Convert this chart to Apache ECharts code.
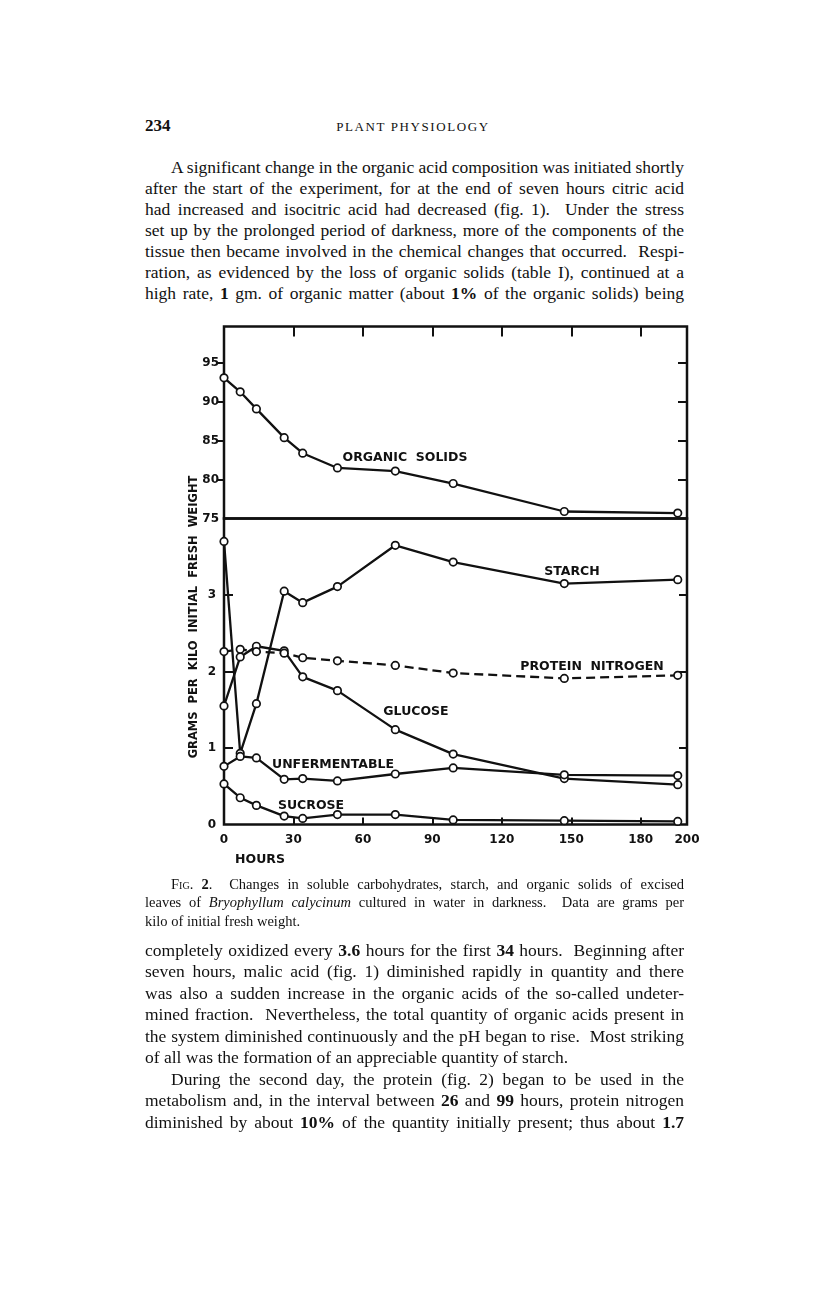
<!DOCTYPE html>
<html lang="en">
<head>
<meta charset="UTF-8">
<title>Plant Physiology 234</title>
<style>
  body { margin: 0; background: #fff; }
  #page { position: relative; width: 816px; height: 1295px; color: #111;
          font-family: "Liberation Serif", "DejaVu Serif", serif; }
  .ln { position: absolute; left: 145px; width: 539px; height: 20px; line-height: 20px;
        font-size: 17.5px; white-space: nowrap; }
  .cap { font-size: 14.5px; height: 18px; line-height: 18px; }
  .ind { left: 171px; width: 513px; }
  b { font-weight: 700; }
  #chart { position: absolute; left: 0; top: 300px; width: 816px; height: 580px; }
</style>
</head>
<body>
<div id="page">
  <div style="position:absolute;left:145px;top:116px;font-size:17px;line-height:20px;font-weight:bold;">234</div>
  <div style="position:absolute;left:300px;width:226px;top:117px;font-size:13px;line-height:20px;text-align:center;letter-spacing:1.6px;">PLANT PHYSIOLOGY</div>

  <div class="ln ind" style="top:157px">A significant change in the organic acid composition was initiated shortly</div>
  <div class="ln" style="top:178px">after the start of the experiment, for at the end of seven hours citric acid</div>
  <div class="ln" style="top:199px">had increased and isocitric acid had decreased (fig. 1).&nbsp; Under the stress</div>
  <div class="ln" style="top:220px">set up by the prolonged period of darkness, more of the components of the</div>
  <div class="ln" style="top:241px">tissue then became involved in the chemical changes that occurred.&nbsp; Respi-</div>
  <div class="ln" style="top:262px">ration, as evidenced by the loss of organic solids (table I), continued at a</div>
  <div class="ln" style="top:283px">high rate, <b>1</b> gm. of organic matter (about <b>1%</b> of the organic solids) being</div>

  <div id="chart"></div>

  <div class="ln cap ind" style="top:875px">F<span style="font-variant:small-caps">ig</span>. <b>2</b>.&nbsp; Changes in soluble carbohydrates, starch, and organic solids of excised</div>
  <div class="ln cap" style="top:893px">leaves of <i>Bryophyllum calycinum</i> cultured in water in darkness.&nbsp; Data are grams per</div>
  <div class="ln cap end" style="top:912px">kilo of initial fresh weight.</div>

  <div class="ln" style="top:940px">completely oxidized every <b>3.6</b> hours for the first <b>34</b> hours.&nbsp; Beginning after</div>
  <div class="ln" style="top:961px">seven hours, malic acid (fig. 1) diminished rapidly in quantity and there</div>
  <div class="ln" style="top:983px">was also a sudden increase in the organic acids of the so-called undeter-</div>
  <div class="ln" style="top:1004px">mined fraction.&nbsp; Nevertheless, the total quantity of organic acids present in</div>
  <div class="ln" style="top:1026px">the system diminished continuously and the pH began to rise.&nbsp; Most striking</div>
  <div class="ln end" style="top:1047px">of all was the formation of an appreciable quantity of starch.</div>
  <div class="ln ind" style="top:1069px">During the second day, the protein (fig. 2) began to be used in the</div>
  <div class="ln" style="top:1090px">metabolism and, in the interval between <b>26</b> and <b>99</b> hours, protein nitrogen</div>
  <div class="ln" style="top:1112px">diminished by about <b>10%</b> of the quantity initially present; thus about <b>1.7</b></div>
</div>

<script>
// stretch or squeeze each printed line to the column width, like the typeset page
(function () {
  var lines = document.querySelectorAll('.ln');
  for (var i = 0; i < lines.length; i++) {
    var el = lines[i];
    var span = document.createElement('span');
    while (el.firstChild) span.appendChild(el.firstChild);
    el.appendChild(span);
    var natural = span.getBoundingClientRect().width;
    var target = el.clientWidth;
    var gaps = (span.textContent.match(/[ \u00a0]/g) || []).length;
    if (el.classList.contains('end')) {
      if (natural > target) el.style.wordSpacing = ((target - natural) / gaps) + 'px';
      continue;
    }
    if (gaps) el.style.wordSpacing = ((target - natural) / gaps) + 'px';
  }
})();
</script>

<script src="https://cdn.jsdelivr.net/npm/echarts@6.0.0/dist/echarts.min.js"></script>
<script>
// hours of darkness at which samples were taken
var hours = [0, 7, 14, 26, 34, 49, 74, 99, 147, 196];
// grams per kilo of initial fresh weight
var organicSolids = [93.1, 91.3, 89.1, 85.4, 83.4, 81.5, 81.1, 79.5, 75.9, 75.7];
var starch        = [3.70, 0.93, 1.58, 3.05, 2.90, 3.11, 3.65, 3.43, 3.15, 3.20];
var glucose       = [1.55, 2.19, 2.33, 2.27, 1.93, 1.75, 1.24, 0.92, 0.60, 0.52];
var proteinN      = [2.26, 2.29, 2.26, 2.24, 2.18, 2.14, 2.08, 1.98, 1.91, 1.95];
var unfermentable = [0.76, 0.89, 0.87, 0.59, 0.60, 0.57, 0.66, 0.74, 0.65, 0.64];
var sucrose       = [0.53, 0.35, 0.25, 0.11, 0.08, 0.13, 0.13, 0.06, 0.05, 0.04];

var hourTicks  = [0, 30, 60, 90, 120, 150, 180, 200];
var upperTicks = [75, 80, 85, 90, 95];
var lowerTicks = [0, 1, 2, 3];

var INK = '#111';
var LETTER = 'bold 12.5px "DejaVu Sans", sans-serif';

function pairs(vals) {
  var out = [];
  for (var i = 0; i < hours.length; i++) out.push([hours[i], vals[i]]);
  return out;
}

function line(name, vals, xi, yi, dashed) {
  return {
    name: name, type: 'line', xAxisIndex: xi, yAxisIndex: yi,
    data: pairs(vals),
    symbol: 'circle', symbolSize: 7.5,
    itemStyle: { color: '#fff', borderColor: INK, borderWidth: 1.7 },
    lineStyle: { color: INK, width: 2.3, type: dashed ? [9, 5] : 'solid' },
    silent: true
  };
}

function label(txt, x, y, font) {
  return { type: 'text', x: x, y: y,
    style: { text: txt, font: font || LETTER, fill: INK,
             align: 'center', verticalAlign: 'middle',
             textAlign: 'center', textVerticalAlign: 'middle' } };
}

var tickLine = { color: INK, width: 2 };
var tickFont = { color: INK, fontFamily: 'DejaVu Sans', fontWeight: 'bold', fontSize: 12 };

var option = {
  animation: false,
  grid: [
    { left: 224, top: 26.5, width: 463, height: 192, show: true, borderColor: INK, borderWidth: 2.5 },
    { left: 224, top: 218.5, width: 463, height: 306, show: true, borderColor: INK, borderWidth: 2.5 }
  ],
  xAxis: [
    { gridIndex: 0, type: 'value', min: 0, max: 200, position: 'top',
      axisLine: { show: false }, splitLine: { show: false },
      axisTick: { inside: true, length: 10, lineStyle: tickLine, customValues: [30, 60, 90, 120, 150, 180] },
      axisLabel: { show: false } },
    { gridIndex: 1, type: 'value', min: 0, max: 200, position: 'bottom',
      axisLine: { show: false }, splitLine: { show: false },
      axisTick: { inside: true, length: 7, lineStyle: tickLine, customValues: [30, 60, 90, 120, 150, 180] },
      axisLabel: Object.assign({ customValues: hourTicks, margin: 9 }, tickFont) }
  ],
  yAxis: [
    { gridIndex: 0, type: 'value', min: 75, max: 99.7, position: 'left',
      axisLine: { show: false }, splitLine: { show: false },
      axisTick: { inside: false, length: 6, lineStyle: tickLine, customValues: [80, 85, 90, 95] },
      axisLabel: Object.assign({ customValues: upperTicks, margin: 5 }, tickFont) },
    { gridIndex: 0, type: 'value', min: 75, max: 99.7, position: 'right',
      axisLine: { show: false }, splitLine: { show: false },
      axisTick: { inside: true, length: 9, lineStyle: tickLine, customValues: [80, 85, 90, 95] },
      axisLabel: { show: false } },
    { gridIndex: 1, type: 'value', min: 0, max: 4, position: 'left',
      axisLine: { show: false }, splitLine: { show: false },
      axisTick: { inside: true, length: 9, lineStyle: tickLine, customValues: [1, 2, 3] },
      axisLabel: Object.assign({ customValues: lowerTicks, margin: 8 }, tickFont) },
    { gridIndex: 1, type: 'value', min: 0, max: 4, position: 'right',
      axisLine: { show: false }, splitLine: { show: false },
      axisTick: { inside: true, length: 8, lineStyle: tickLine, customValues: [1, 2, 3] },
      axisLabel: { show: false } }
  ],
  series: [
    line('ORGANIC SOLIDS', organicSolids, 0, 0, false),
    line('STARCH', starch, 1, 2, false),
    line('GLUCOSE', glucose, 1, 2, false),
    line('PROTEIN NITROGEN', proteinN, 1, 2, true),
    line('UNFERMENTABLE', unfermentable, 1, 2, false),
    line('SUCROSE', sucrose, 1, 2, false)
  ],
  graphic: [
    label('ORGANIC  SOLIDS', 405, 157.5),
    label('STARCH', 572, 272),
    label('PROTEIN  NITROGEN', 592, 367),
    label('GLUCOSE', 416, 412),
    label('UNFERMENTABLE', 333, 465),
    label('SUCROSE', 311, 506),
    label('HOURS', 260, 560),
    { type: 'text', x: 194, y: 317, rotation: Math.PI / 2,
      style: { text: 'GRAMS  PER  KILO  INITIAL  FRESH  WEIGHT', font: 'bold 11.5px "DejaVu Sans", sans-serif', fill: INK,
               align: 'center', verticalAlign: 'middle',
               textAlign: 'center', textVerticalAlign: 'middle' } }
  ]
};

var myChart = echarts.init(document.getElementById('chart'));
myChart.setOption(option);
</script>
</body>
</html>
